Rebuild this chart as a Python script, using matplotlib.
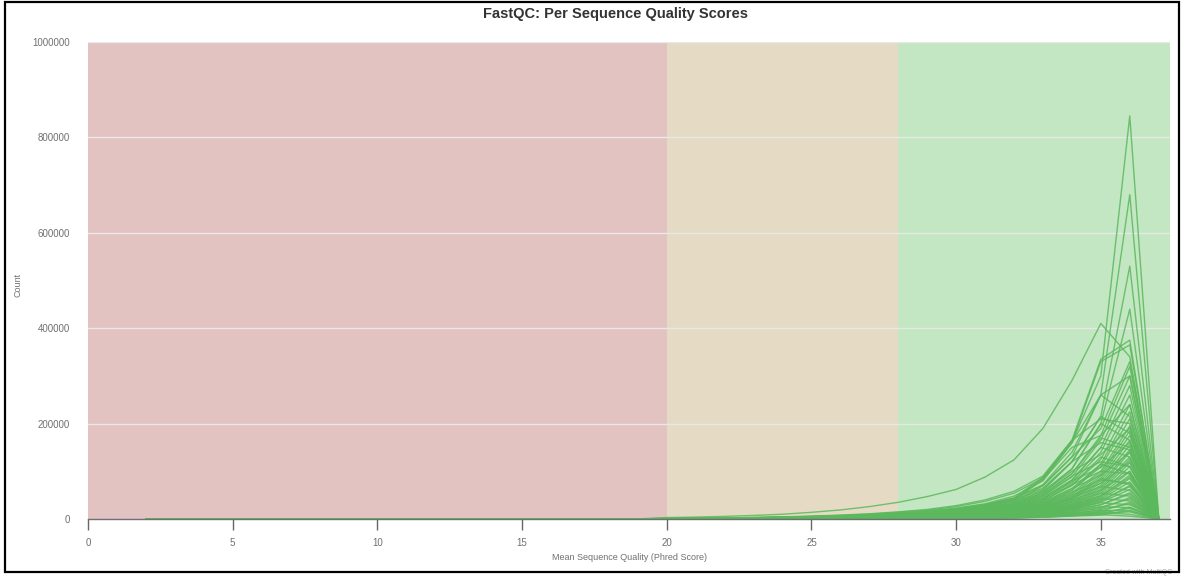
import matplotlib
matplotlib.use("Agg")
import matplotlib.pyplot as plt
from matplotlib.patches import Rectangle

# Mean sequence quality (Phred) positions
tail_quality = list(range(2, 20))
main_quality = list(range(20, 38))

# shared low-quality tail counts (Phred 2..19)
tail_counts = [20, 20, 25, 30, 30, 35, 40, 45, 50, 60, 70, 80, 95, 110, 130, 160, 190, 230]

# per-sample counts at Phred 20..37
sample_counts = [
    [3000, 4000, 5500, 7500, 10000, 14000, 19000, 26000, 35000, 47000, 62000, 88000, 124000, 190000, 290000, 410000, 340000, 0],
    [1000, 1400, 2000, 2800, 3800, 5200, 7000, 9500, 13000, 17000, 23000, 32000, 48000, 80000, 160000, 300000, 845000, 3000],
    [900, 1300, 1800, 2500, 3400, 4600, 6200, 8400, 11000, 15000, 21000, 30000, 44000, 72000, 140000, 260000, 680000, 2500],
    [800, 1100, 1600, 2200, 3000, 4100, 5500, 7400, 10000, 13500, 19000, 27000, 40000, 65000, 120000, 215000, 530000, 2000],
    [700, 1000, 1400, 2000, 2700, 3700, 5000, 6700, 9000, 12000, 17000, 24000, 36000, 58000, 105000, 200000, 440000, 1800],
    [1200, 1700, 2400, 3300, 4500, 6100, 8200, 11000, 15000, 20000, 28000, 40000, 58000, 90000, 165000, 335000, 375000, 1500],
    [1100, 1600, 2200, 3000, 4100, 5600, 7500, 10000, 14000, 18500, 26000, 37000, 54000, 85000, 160000, 330000, 365000, 1400],
    [600, 900, 1300, 1800, 2500, 3400, 4600, 6200, 8300, 11000, 15000, 21000, 32000, 52000, 95000, 175000, 320000, 1500],
    [600, 850, 1200, 1700, 2300, 3200, 4300, 5800, 7800, 10500, 14500, 20000, 30000, 48000, 88000, 165000, 300000, 1200],
    [550, 800, 1100, 1600, 2200, 3000, 4000, 5400, 7300, 9800, 13500, 19000, 28000, 45000, 82000, 150000, 280000, 1100],
    [500, 750, 1050, 1500, 2000, 2800, 3800, 5100, 6900, 9200, 12500, 17500, 26000, 42000, 76000, 140000, 260000, 1000],
    [900, 1300, 1800, 2500, 3400, 4600, 6200, 8300, 11000, 15000, 21000, 29000, 42000, 70000, 130000, 260000, 215000, 800],
    [800, 1150, 1600, 2200, 3000, 4100, 5500, 7400, 10000, 13500, 18500, 26000, 38000, 62000, 120000, 215000, 180000, 700],
    [450, 650, 900, 1300, 1800, 2500, 3400, 4600, 6200, 8300, 11500, 16000, 24000, 38000, 70000, 125000, 240000, 900],
    [450, 650, 900, 1250, 1700, 2300, 3100, 4200, 5700, 7700, 10500, 15000, 22000, 35000, 64000, 115000, 225000, 800],
    [400, 600, 850, 1200, 1600, 2200, 3000, 4000, 5400, 7300, 10000, 14000, 21000, 33000, 60000, 110000, 210000, 700],
    [700, 1000, 1400, 1900, 2600, 3500, 4700, 6300, 8500, 11500, 16000, 22000, 33000, 55000, 105000, 200000, 165000, 600],
    [650, 950, 1300, 1800, 2450, 3300, 4500, 6000, 8100, 11000, 15000, 21000, 31000, 50000, 95000, 170000, 150000, 500],
    [400, 550, 800, 1100, 1500, 2000, 2700, 3700, 5000, 6800, 9300, 13000, 19000, 30000, 55000, 100000, 195000, 600],
    [350, 500, 700, 1000, 1400, 1900, 2600, 3500, 4700, 6400, 8800, 12500, 18000, 28000, 52000, 95000, 185000, 500],
    [350, 500, 700, 950, 1300, 1800, 2400, 3300, 4400, 6000, 8200, 11500, 17000, 27000, 48000, 90000, 175000, 400],
    [300, 450, 650, 900, 1200, 1700, 2300, 3100, 4200, 5700, 7800, 11000, 16000, 25000, 45000, 85000, 165000, 400],
    [300, 450, 600, 850, 1150, 1600, 2150, 2900, 3900, 5300, 7300, 10000, 15000, 24000, 42000, 80000, 155000, 300],
    [550, 800, 1100, 1500, 2100, 2800, 3800, 5100, 6900, 9300, 12800, 18000, 26000, 42000, 80000, 150000, 130000, 400],
    [280, 400, 560, 780, 1050, 1450, 1950, 2650, 3600, 4900, 6700, 9300, 13500, 22000, 40000, 75000, 145000, 300],
    [260, 380, 530, 740, 1000, 1350, 1850, 2500, 3400, 4600, 6300, 8800, 12800, 20500, 37000, 70000, 140000, 300],
    [250, 360, 500, 700, 950, 1300, 1750, 2350, 3200, 4300, 5900, 8200, 12000, 19000, 35000, 66000, 130000, 250],
    [500, 700, 1000, 1400, 1900, 2600, 3500, 4700, 6300, 8500, 11700, 16500, 24000, 38000, 72000, 130000, 110000, 300],
    [230, 330, 460, 640, 870, 1200, 1600, 2200, 3000, 4000, 5500, 7700, 11200, 17800, 32000, 62000, 125000, 200],
    [220, 310, 430, 600, 820, 1120, 1500, 2050, 2800, 3800, 5200, 7200, 10500, 16800, 30000, 58000, 118000, 200],
    [200, 290, 400, 560, 770, 1050, 1400, 1900, 2600, 3500, 4800, 6700, 9800, 15600, 28000, 54000, 110000, 200],
    [190, 270, 380, 530, 720, 980, 1320, 1800, 2450, 3300, 4500, 6300, 9200, 14600, 26000, 50000, 100000, 150],
    [400, 580, 800, 1100, 1500, 2050, 2800, 3800, 5100, 6900, 9500, 13300, 19500, 31000, 60000, 115000, 95000, 250],
    [180, 260, 360, 500, 680, 920, 1250, 1700, 2300, 3100, 4200, 5900, 8600, 13700, 24500, 47000, 92000, 150],
    [170, 240, 340, 470, 640, 870, 1180, 1600, 2150, 2900, 4000, 5500, 8000, 12800, 23000, 44000, 85000, 150],
    [160, 230, 320, 440, 600, 820, 1110, 1500, 2000, 2700, 3700, 5200, 7500, 12000, 21500, 41000, 78000, 100],
    [150, 210, 300, 410, 560, 760, 1030, 1400, 1900, 2550, 3500, 4900, 7100, 11300, 20000, 38000, 70000, 100],
    [140, 200, 280, 380, 520, 710, 960, 1300, 1750, 2350, 3200, 4500, 6500, 10300, 18500, 35000, 62000, 100],
    [300, 430, 600, 830, 1130, 1540, 2100, 2800, 3800, 5100, 7000, 9800, 14300, 23000, 44000, 85000, 72000, 150],
    [120, 170, 240, 330, 450, 610, 830, 1120, 1500, 2000, 2750, 3850, 5600, 8900, 16000, 30000, 52000, 100],
    [100, 140, 200, 280, 380, 520, 700, 950, 1270, 1700, 2300, 3250, 4700, 7500, 13500, 25000, 42000, 80],
    [80, 110, 160, 220, 300, 410, 560, 760, 1020, 1370, 1850, 2600, 3800, 6000, 10800, 20000, 32000, 60],
    [60, 90, 120, 170, 230, 310, 420, 570, 760, 1020, 1380, 1950, 2800, 4500, 8000, 15000, 22000, 50],
    [50, 70, 100, 140, 190, 260, 350, 470, 630, 850, 1150, 1600, 2300, 3700, 6600, 12000, 15000, 40],
    [1000, 1400, 1900, 2600, 3500, 4700, 6300, 8500, 11500, 15500, 21000, 30000, 44000, 88000, 165000, 210000, 200000, 800],
    [900, 1250, 1700, 2300, 3100, 4200, 5700, 7700, 10400, 14000, 19000, 27000, 40000, 82000, 150000, 175000, 240000, 900],
    [700, 980, 1350, 1850, 2500, 3400, 4600, 6200, 8400, 11300, 15400, 21500, 32000, 60000, 120000, 160000, 145000, 600],
    [650, 900, 1250, 1700, 2300, 3100, 4200, 5700, 7700, 10400, 14000, 19500, 29000, 55000, 100000, 135000, 190000, 700],
    [600, 830, 1150, 1550, 2100, 2850, 3850, 5200, 7000, 9500, 12800, 18000, 26500, 48000, 90000, 120000, 110000, 500],
    [550, 760, 1050, 1420, 1920, 2600, 3500, 4750, 6400, 8700, 11700, 16400, 24000, 43000, 80000, 108000, 160000, 500],
    [500, 700, 960, 1300, 1750, 2370, 3200, 4350, 5900, 8000, 10700, 15000, 22000, 39000, 72000, 100000, 95000, 400],
    [450, 630, 870, 1180, 1600, 2160, 2920, 3950, 5350, 7250, 9800, 13700, 20000, 35000, 64000, 92000, 140000, 400],
    [400, 560, 770, 1050, 1420, 1920, 2600, 3500, 4750, 6400, 8700, 12200, 17800, 31000, 56000, 82000, 75000, 350],
    [360, 500, 690, 940, 1270, 1720, 2320, 3140, 4250, 5750, 7800, 10900, 16000, 28000, 50000, 75000, 120000, 300],
    [330, 460, 630, 860, 1160, 1570, 2120, 2870, 3880, 5250, 7100, 9950, 14500, 25500, 45000, 68000, 60000, 300],
    [300, 420, 580, 790, 1060, 1440, 1940, 2620, 3550, 4800, 6500, 9100, 13300, 23000, 40000, 60000, 100000, 250],
    [270, 380, 520, 710, 960, 1300, 1750, 2370, 3200, 4330, 5850, 8200, 12000, 21000, 36000, 54000, 48000, 250],
    [240, 340, 470, 640, 860, 1170, 1580, 2130, 2880, 3900, 5270, 7400, 10800, 19000, 32000, 48000, 88000, 200],
    [220, 310, 420, 580, 780, 1050, 1420, 1920, 2600, 3500, 4750, 6650, 9700, 17000, 29000, 43000, 38000, 200],
    [200, 280, 380, 520, 700, 950, 1280, 1730, 2340, 3160, 4280, 6000, 8750, 15300, 26000, 38000, 68000, 150],
    [180, 250, 340, 470, 630, 850, 1150, 1560, 2100, 2850, 3850, 5400, 7900, 13800, 23000, 34000, 30000, 150],
    [160, 220, 300, 420, 560, 760, 1030, 1400, 1890, 2560, 3460, 4850, 7100, 12400, 20000, 30000, 55000, 120],
    [140, 200, 270, 370, 500, 680, 920, 1250, 1690, 2290, 3100, 4350, 6350, 11000, 17500, 26000, 24000, 120],
    [120, 170, 230, 320, 430, 590, 800, 1080, 1460, 1980, 2680, 3760, 5500, 9500, 15000, 22000, 45000, 100],
    [100, 140, 190, 260, 350, 480, 650, 880, 1190, 1610, 2180, 3060, 4470, 7700, 12500, 18000, 17000, 100],
    [90, 125, 170, 235, 320, 430, 580, 790, 1070, 1450, 1960, 2750, 4000, 6900, 11000, 16000, 35000, 80],
    [80, 110, 150, 205, 280, 380, 510, 690, 940, 1270, 1720, 2410, 3500, 6000, 9500, 13000, 10000, 80],
    [70, 95, 130, 180, 245, 330, 450, 610, 820, 1110, 1500, 2100, 3060, 5200, 8200, 11000, 25000, 60],
    [60, 80, 110, 150, 205, 280, 380, 510, 690, 930, 1260, 1770, 2580, 4400, 7000, 9000, 6000, 60],
    [50, 70, 95, 130, 175, 240, 325, 440, 590, 800, 1080, 1520, 2200, 3800, 6000, 8000, 18000, 50],
    [900, 1250, 1700, 2300, 3100, 4200, 5700, 7700, 10400, 14000, 19000, 27000, 40000, 85000, 160000, 260000, 300000, 1000],
    [800, 1100, 1500, 2050, 2800, 3800, 5100, 6900, 9300, 12600, 17000, 24000, 35000, 70000, 130000, 190000, 330000, 1000],
]

x_ticks = [0, 5, 10, 15, 20, 25, 30, 35]
y_ticks = [0, 200000, 400000, 600000, 800000, 1000000]

W, H = 1187, 576
fig = plt.figure(figsize=(W / 100, H / 100), dpi=100)
plt.rcParams['font.family'] = ['Liberation Sans', 'DejaVu Sans']

ax = fig.add_axes([88 / W, (H - 519) / H, 1082 / W, 477 / H])
ax.set_xlim(0, 37.39)
ax.set_ylim(0, 1000000)

ax.axvspan(0, 20, color='#e3c2c2', zorder=0, lw=0)
ax.axvspan(20, 28, color='#e5dbc4', zorder=0, lw=0)
ax.axvspan(28, 37.39, color='#c3e6c3', zorder=0, lw=0)

for yt in y_ticks[1:]:
    ax.axhline(yt, color='#e8e8e8', lw=1, zorder=1)

xs = tail_quality + main_quality
for counts in sample_counts:
    ax.plot(xs, tail_counts + counts, color='#5cb85c', lw=1.0, alpha=0.85, zorder=2)

for s in ['top', 'right', 'left']:
    ax.spines[s].set_visible(False)
ax.spines['bottom'].set_color('#707070')
ax.spines['bottom'].set_linewidth(1)
ax.spines['bottom'].set_zorder(5)

ax.set_xticks(x_ticks)
ax.set_xticklabels([str(v) for v in x_ticks])
ax.set_yticks(y_ticks)
ax.set_yticklabels([str(v) for v in y_ticks])
ax.tick_params(axis='x', direction='out', length=8, width=1, color='#666666',
               labelsize=7, labelcolor='#707070', pad=6)
ax.tick_params(axis='y', length=0, labelsize=7, labelcolor='#707070', pad=13)

ax.set_xlabel('Mean Sequence Quality (Phred Score)', fontsize=6.5, color='#707070', labelpad=3)
fig.text(18 / W, 1 - 285 / H, 'Count', rotation=90, fontsize=6.5, color='#707070',
         ha='center', va='center')

fig.text(616 / W, 1 - 14 / H, 'FastQC: Per Sequence Quality Scores', fontsize=10.5,
         fontweight='bold', color='#333333', ha='center', va='center')

fig.text(1172 / W, 1 - 572 / H, 'Created with MultiQC', fontsize=5, color='#aaaaaa',
         ha='right', va='center')

fig.patches.append(Rectangle((5 / W, 1 - 572 / H), (1179 - 5) / W, (572 - 2) / H,
                             transform=fig.transFigure, fill=False, edgecolor='black',
                             lw=1.6, zorder=10))

fig.savefig('out.png', dpi=100)
